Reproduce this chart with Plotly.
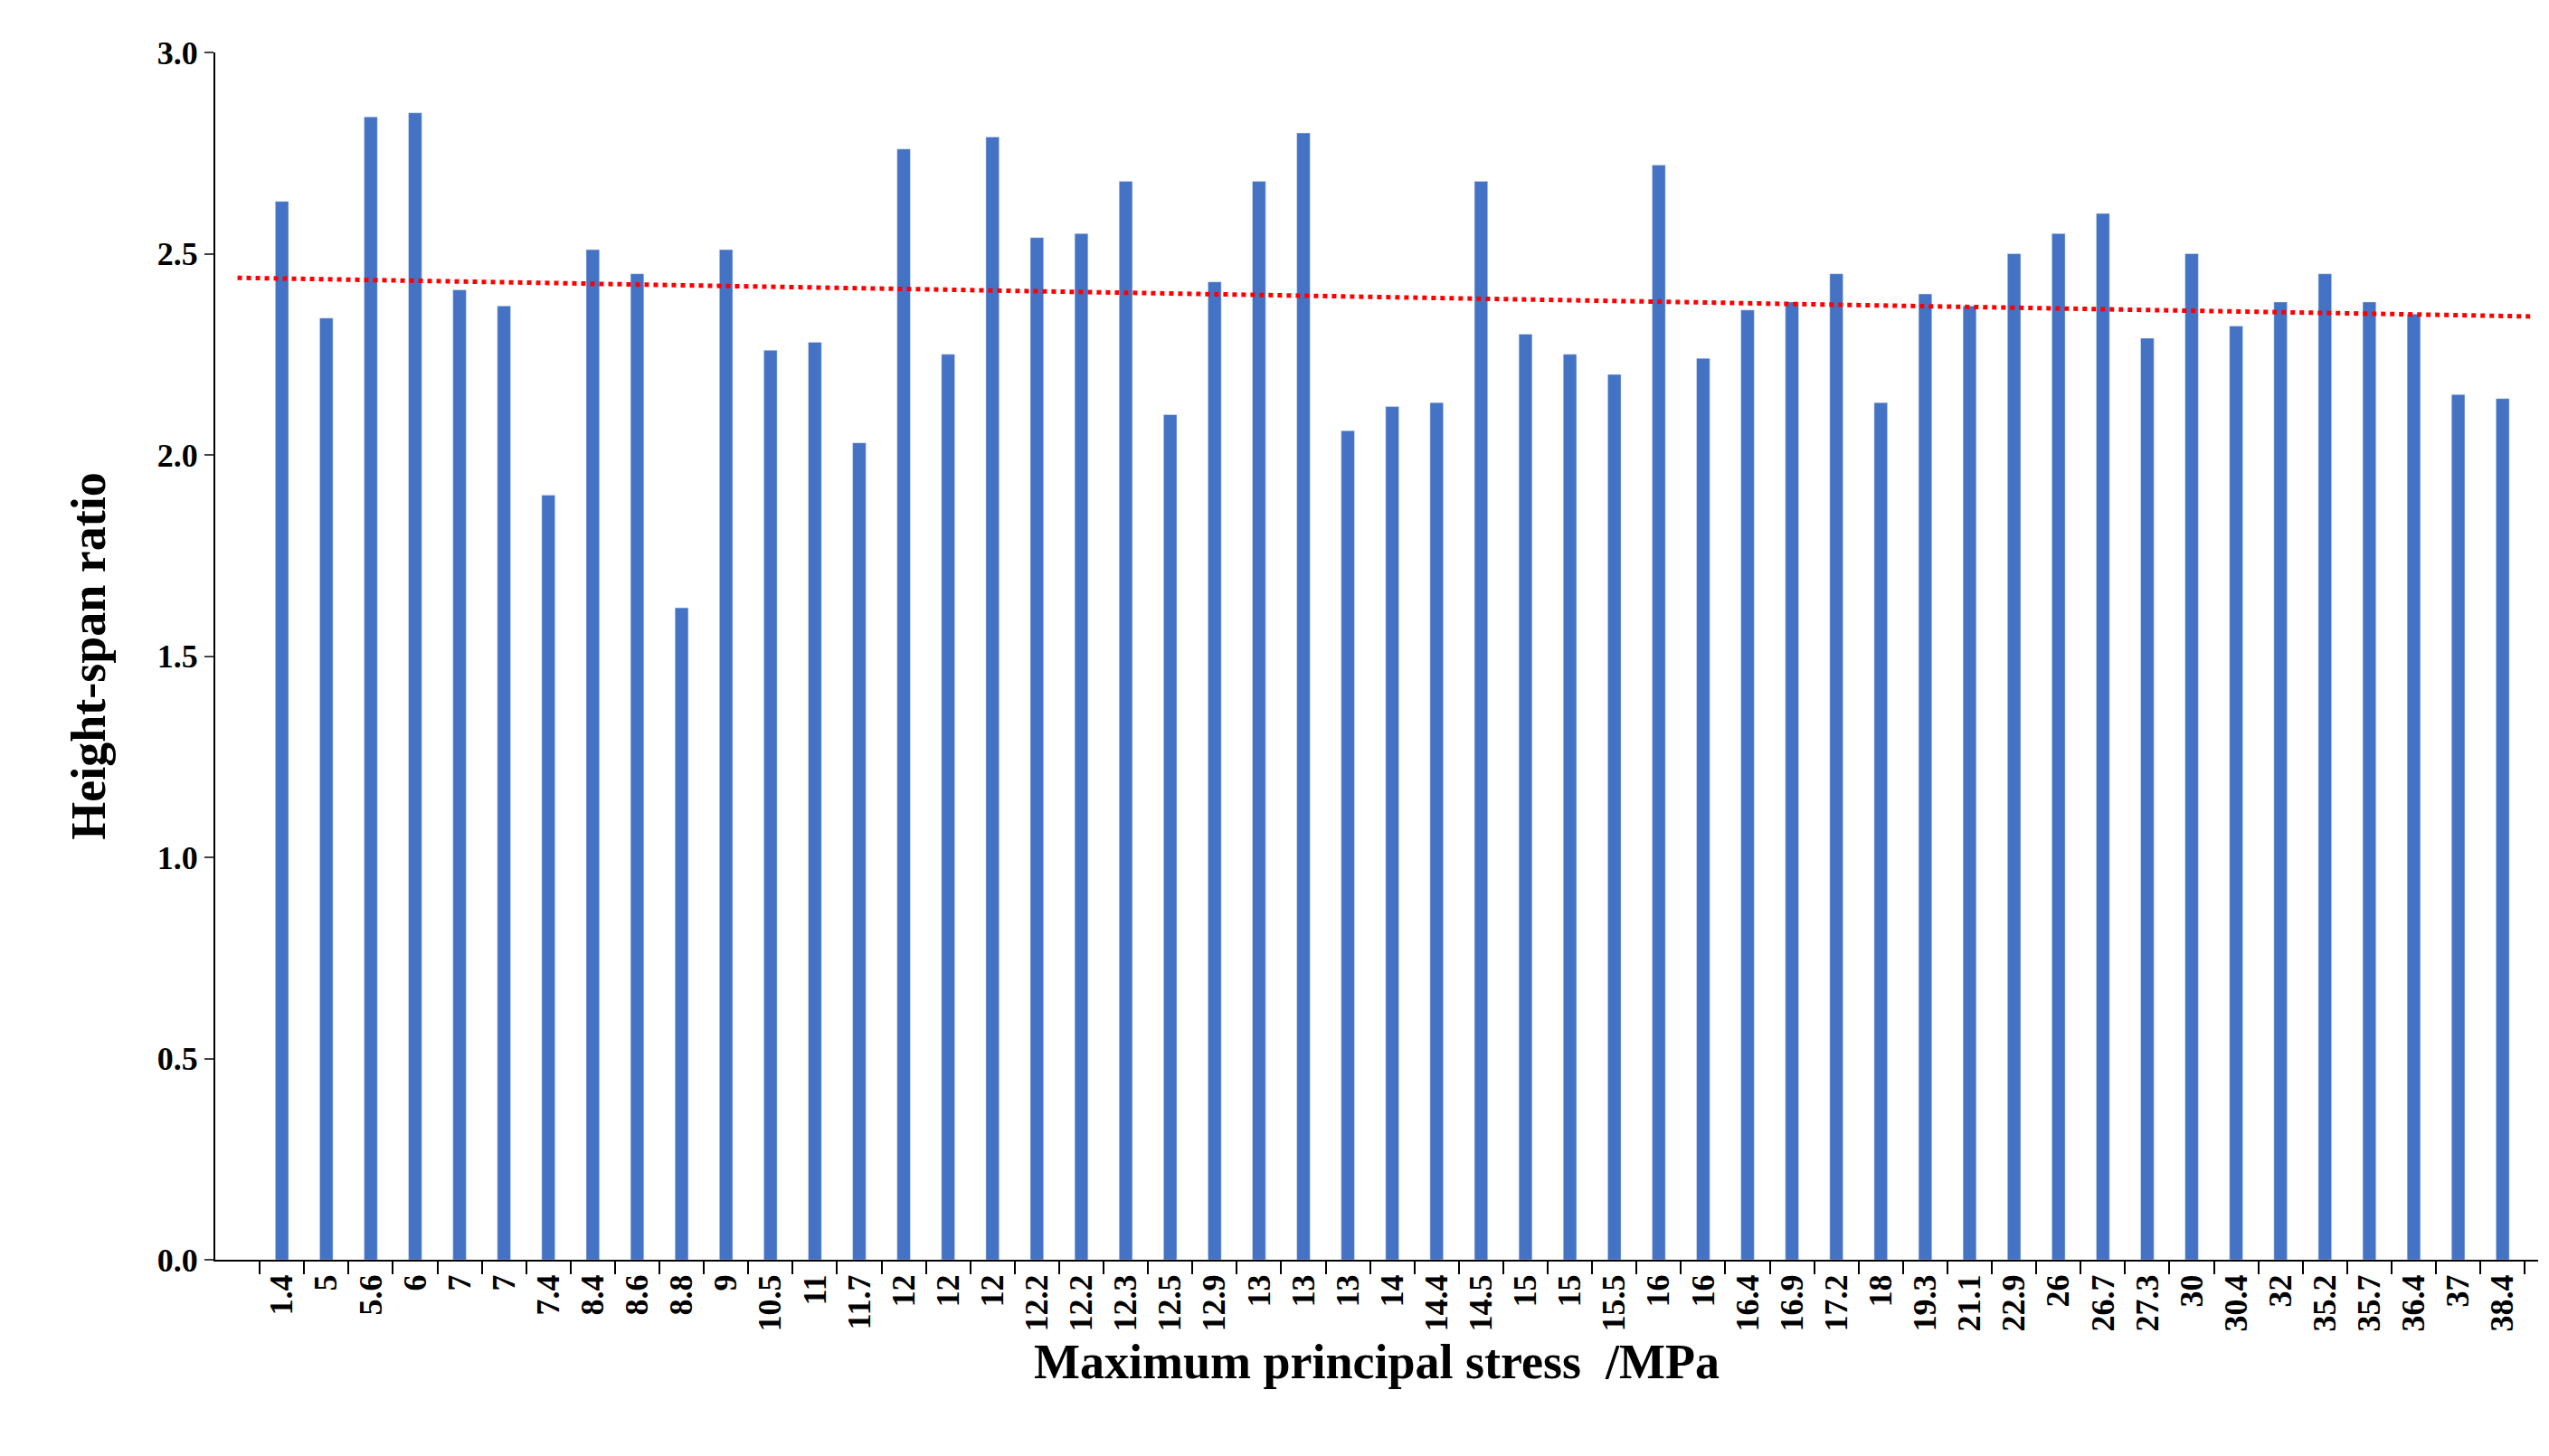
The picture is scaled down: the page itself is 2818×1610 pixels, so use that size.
import numpy as np
import plotly.graph_objects as go

stress_labels = ["1.4","5","5.6","6","7","7","7.4","8.4","8.6","8.8","9","10.5","11","11.7","12","12","12",
                 "12.2","12.2","12.3","12.5","12.9","13","13","13","14","14.4","14.5","15","15","15.5","16","16",
                 "16.4","16.9","17.2","18","19.3","21.1","22.9","26","26.7","27.3","30","30.4","32","35.2","35.7",
                 "36.4","37","38.4"]
ratio = [2.63,2.34,2.84,2.85,2.41,2.37,1.90,2.51,2.45,1.62,2.51,2.26,2.28,2.03,2.76,2.25,2.79,2.54,2.55,
         2.68,2.10,2.43,2.68,2.80,2.06,2.12,2.13,2.68,2.30,2.25,2.20,2.72,2.24,2.36,2.38,2.45,2.13,2.40,
         2.37,2.50,2.55,2.60,2.29,2.50,2.32,2.38,2.45,2.38,2.35,2.15,2.14]

n = len(ratio)
idx = np.arange(n)
k, b = np.polyfit(idx, ratio, 1)
tx = np.array([-1.0, n - 0.3])

font = "Liberation Serif, Times New Roman, serif"
fig = go.Figure()
fig.add_trace(go.Bar(x=idx, y=ratio, width=0.3, marker_color="#4472C4", showlegend=False))
fig.add_trace(go.Scatter(x=tx, y=k * tx + b, mode="lines",
                         line=dict(color="#FF0000", width=5, dash="dot"), showlegend=False))
fig.update_layout(
    width=2818, height=1610, plot_bgcolor="white", paper_bgcolor="white",
    margin=dict(l=230, r=20, t=50, b=225),
    font=dict(family=font, color="black"),
    xaxis=dict(tickvals=idx, ticktext=stress_labels, tickangle=-90, range=[-1.5, n - 0.2],
               showline=True, linecolor="black", linewidth=2, ticks="", showgrid=False,
               tickfont=dict(size=36, family=font, weight="bold"),
               title=dict(text="<b>Maximum principal stress  /MPa</b>", font=dict(size=54), standoff=15),
               minor=dict(tickvals=list(np.arange(-0.5, n, 1)), ticks="outside", ticklen=14,
                          tickcolor="black", tickwidth=2)),
    yaxis=dict(range=[0, 3.0], tickvals=[0, 0.5, 1, 1.5, 2, 2.5, 3], tickformat=".1f",
               showline=True, linecolor="black", linewidth=2, ticks="outside", ticklen=10,
               tickwidth=2, showgrid=False, zeroline=False,
               tickfont=dict(size=36, family=font, weight="bold"),
               title=dict(text="<b>Height-span ratio</b>", font=dict(size=54), standoff=40)),
    bargap=0.7,
)
fig.write_html("out.html")
